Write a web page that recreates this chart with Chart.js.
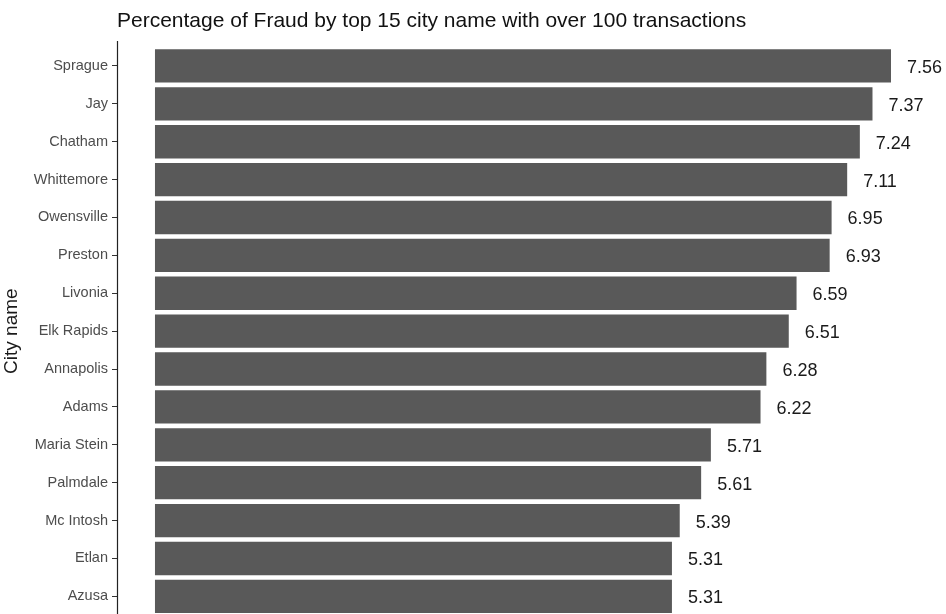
<!DOCTYPE html>
<html>
<head>
<meta charset="utf-8">
<script src="https://cdn.jsdelivr.net/npm/chart.js@4/dist/chart.umd.min.js"></script>
<style>
  html, body { margin: 0; padding: 0; overflow: hidden; background: #fff; }
  canvas { display: block; }
</style>
</head>
<body>
<canvas id="fraudChart" width="946" height="628"></canvas>
<script>
const cities = ["Sprague", "Jay", "Chatham", "Whittemore", "Owensville", "Preston", "Livonia",
  "Elk Rapids", "Annapolis", "Adams", "Maria Stein", "Palmdale", "Mc Intosh", "Etlan", "Azusa"];
const fraudPct = [7.56, 7.37, 7.24, 7.11, 6.95, 6.93, 6.59, 6.51, 6.28, 6.22, 5.71, 5.61, 5.39, 5.31, 5.31];
const chartTitle = "Percentage of Fraud by top 15 city name with over 100 transactions";

// title, value labels and the axis line drawn over the chart
const extras = {
  id: 'extras',
  afterDraw(chart) {
    const ctx = chart.ctx;
    const area = chart.chartArea;
    ctx.save();
    ctx.fillStyle = '#111';
    ctx.font = '21px "Liberation Sans", Arial, sans-serif';
    ctx.textAlign = 'left';
    ctx.textBaseline = 'middle';
    ctx.fillText(chartTitle, area.left, 21);

    ctx.font = '18px "Liberation Sans", Arial, sans-serif';
    ctx.fillStyle = '#1a1a1a';
    chart.getDatasetMeta(0).data.forEach((bar, i) => {
      ctx.fillText(fraudPct[i].toFixed(2), bar.x + 16, bar.y + 2);
    });

    ctx.strokeStyle = '#222';
    ctx.lineWidth = 1.2;
    ctx.beginPath();
    ctx.moveTo(area.left + 0.5, area.top - 6);
    ctx.lineTo(area.left + 0.5, chart.height);
    ctx.stroke();
    ctx.restore();
  }
};

new Chart(document.getElementById('fraudChart'), {
  type: 'bar',
  data: {
    labels: cities,
    datasets: [{
      label: 'Fraud %',
      data: fraudPct,
      backgroundColor: '#595959',
      barPercentage: 0.88,
      categoryPercentage: 1.0
    }]
  },
  options: {
    indexAxis: 'y',
    responsive: false,
    animation: false,
    layout: { padding: { top: 47, bottom: 0, left: 0, right: 0 } },
    plugins: {
      legend: { display: false },
      tooltip: { enabled: false }
    },
    scales: {
      x: {
        display: false,
        min: -0.39,
        max: 8.125
      },
      y: {
        afterFit(scale) { scale.width = 117; },
        border: { display: false },
        grid: {
          offset: false,
          drawOnChartArea: false,
          drawTicks: true,
          tickLength: 5,
          color: '#333'
        },
        ticks: {
          padding: 4,
          color: '#4d4d4d',
          font: { family: '"Liberation Sans", Arial, sans-serif', size: 14.5 }
        },
        title: {
          display: true,
          text: 'City name',
          color: '#1a1a1a',
          padding: { top: 0, bottom: 0 },
          font: { family: '"Liberation Sans", Arial, sans-serif', size: 19 }
        }
      }
    }
  },
  plugins: [extras]
});
</script>
</body>
</html>
